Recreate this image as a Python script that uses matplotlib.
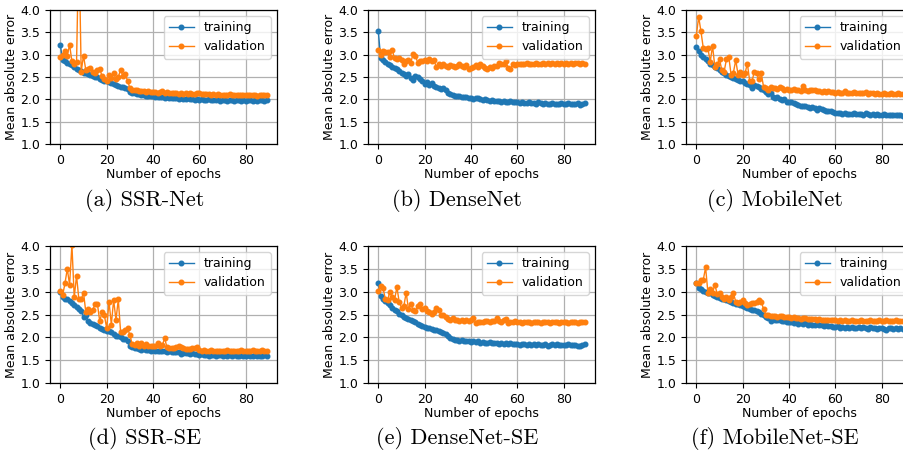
import matplotlib
matplotlib.use("Agg")
import matplotlib.pyplot as plt
import numpy as np

epochs = list(range(90))

a_train = [3.22, 2.88, 2.85, 2.82, 2.80, 2.76, 2.72, 2.68, 2.65, 2.63,
           2.60, 2.58, 2.57, 2.55, 2.53, 2.51, 2.49, 2.46, 2.44, 2.42,
           2.40, 2.38, 2.36, 2.34, 2.32, 2.30, 2.28, 2.27, 2.25, 2.24,
           2.17, 2.15, 2.14, 2.13, 2.12, 2.10, 2.09, 2.08, 2.08, 2.07,
           2.07, 2.06, 2.06, 2.05, 2.05, 2.04, 2.05, 2.03, 2.04, 2.02,
           2.03, 2.01, 2.02, 2.00, 2.01, 2.02, 2.00, 2.01, 1.99, 2.00,
           1.98, 2.00, 1.99, 1.98, 2.00, 1.98, 1.99, 1.98, 2.00, 1.97,
           1.98, 1.99, 1.97, 1.98, 1.99, 1.97, 1.98, 1.99, 1.97, 1.98,
           1.97, 1.98, 1.99, 1.97, 1.98, 1.97, 1.98, 1.99, 1.97, 1.98]
a_val = [2.95, 3.00, 3.08, 2.98, 3.22, 2.85, 2.80, 2.83, 5.60, 2.62,
         2.98, 2.65, 2.67, 2.70, 2.62, 2.60, 2.65, 2.68, 2.52, 2.45,
         2.42, 2.55, 2.48, 2.58, 2.45, 2.50, 2.66, 2.52, 2.56, 2.42,
         2.25, 2.22, 2.20, 2.20, 2.19, 2.18, 2.18, 2.17, 2.18, 2.16,
         2.16, 2.17, 2.15, 2.16, 2.18, 2.15, 2.17, 2.15, 2.14, 2.15,
         2.14, 2.13, 2.15, 2.13, 2.14, 2.12, 2.15, 2.13, 2.12, 2.14,
         2.14, 2.12, 2.11, 2.12, 2.11, 2.10, 2.11, 2.10, 2.11, 2.10,
         2.10, 2.09, 2.10, 2.11, 2.09, 2.10, 2.09, 2.10, 2.09, 2.10,
         2.09, 2.10, 2.09, 2.10, 2.09, 2.08, 2.09, 2.10, 2.09, 2.09]

b_train = [3.52, 2.93, 2.88, 2.84, 2.80, 2.76, 2.73, 2.70, 2.67, 2.63,
           2.60, 2.57, 2.52, 2.57, 2.47, 2.44, 2.53, 2.50, 2.45, 2.42,
           2.35, 2.38, 2.33, 2.37, 2.30, 2.28, 2.25, 2.24, 2.25, 2.22,
           2.15, 2.12, 2.10, 2.08, 2.07, 2.07, 2.06, 2.06, 2.05, 2.04,
           2.03, 2.01, 2.02, 2.02, 2.00, 1.99, 2.00, 1.98, 1.97, 1.98,
           1.97, 1.96, 1.97, 1.95, 1.96, 1.95, 1.94, 1.96, 1.93, 1.95,
           1.94, 1.92, 1.93, 1.92, 1.91, 1.93, 1.91, 1.92, 1.90, 1.93,
           1.91, 1.90, 1.91, 1.90, 1.89, 1.91, 1.90, 1.89, 1.90, 1.91,
           1.89, 1.90, 1.91, 1.89, 1.90, 1.89, 1.91, 1.88, 1.90, 1.91]
b_val = [3.10, 3.00, 3.08, 3.05, 3.05, 2.95, 3.10, 2.92, 2.90, 2.92,
         2.88, 2.80, 2.85, 2.88, 2.82, 3.02, 2.98, 2.82, 2.86, 2.85,
         2.88, 2.85, 2.90, 2.85, 2.88, 2.72, 2.78, 2.75, 2.78, 2.75,
         2.73, 2.76, 2.74, 2.72, 2.75, 2.78, 2.74, 2.72, 2.76, 2.67,
         2.70, 2.72, 2.76, 2.73, 2.78, 2.75, 2.70, 2.68, 2.72, 2.70,
         2.75, 2.74, 2.82, 2.78, 2.80, 2.85, 2.70, 2.68, 2.78, 2.76,
         2.80, 2.78, 2.80, 2.79, 2.81, 2.78, 2.80, 2.79, 2.81, 2.80,
         2.79, 2.81, 2.80, 2.82, 2.79, 2.81, 2.80, 2.82, 2.80, 2.81,
         2.80, 2.82, 2.79, 2.81, 2.80, 2.82, 2.81, 2.80, 2.81, 2.80]

c_train = [3.18, 3.08, 3.00, 2.95, 2.90, 2.85, 2.80, 2.76, 2.72, 2.70,
           2.66, 2.62, 2.58, 2.55, 2.53, 2.50, 2.48, 2.46, 2.44, 2.42,
           2.40, 2.36, 2.34, 2.32, 2.26, 2.33, 2.30, 2.28, 2.24, 2.22,
           2.17, 2.12, 2.15, 2.05, 2.02, 2.05, 2.00, 1.98, 2.00, 1.95,
           1.93, 1.95, 1.92, 1.90, 1.88, 1.86, 1.84, 1.85, 1.82, 1.80,
           1.83, 1.80, 1.76, 1.80, 1.78, 1.76, 1.74, 1.75, 1.73, 1.72,
           1.70, 1.69, 1.70, 1.68, 1.69, 1.67, 1.68, 1.67, 1.69, 1.67,
           1.68, 1.67, 1.66, 1.70, 1.67, 1.66, 1.68, 1.65, 1.67, 1.66,
           1.65, 1.67, 1.66, 1.64, 1.66, 1.65, 1.66, 1.64, 1.65, 1.63]
c_val = [3.42, 3.85, 3.52, 3.15, 3.12, 3.14, 2.84, 3.20, 2.72, 2.78,
         2.90, 2.65, 2.62, 2.90, 2.95, 2.55, 2.60, 2.88, 2.55, 2.62,
         2.55, 2.58, 2.80, 2.42, 2.40, 2.62, 2.58, 2.45, 2.58, 2.28,
         2.25, 2.22, 2.28, 2.25, 2.26, 2.24, 2.27, 2.25, 2.22, 2.24,
         2.22, 2.20, 2.23, 2.21, 2.20, 2.19, 2.30, 2.20, 2.19, 2.21,
         2.22, 2.20, 2.18, 2.19, 2.17, 2.18, 2.16, 2.18, 2.17, 2.16,
         2.15, 2.16, 2.14, 2.15, 2.18, 2.14, 2.15, 2.14, 2.16, 2.15,
         2.14, 2.15, 2.14, 2.16, 2.13, 2.14, 2.15, 2.13, 2.14, 2.12,
         2.13, 2.14, 2.12, 2.13, 2.14, 2.12, 2.13, 2.14, 2.12, 2.13]

d_train = [3.00, 2.88, 2.85, 2.83, 2.80, 2.75, 2.70, 2.66, 2.62, 2.58,
           2.45, 2.50, 2.35, 2.32, 2.30, 2.28, 2.25, 2.20, 2.18, 2.15,
           2.14, 2.14, 2.12, 2.08, 2.04, 2.02, 2.00, 1.97, 1.96, 1.92,
           1.80, 1.78, 1.77, 1.76, 1.75, 1.72, 1.74, 1.73, 1.72, 1.71,
           1.72, 1.70, 1.71, 1.69, 1.70, 1.70, 1.68, 1.69, 1.67, 1.68,
           1.68, 1.67, 1.63, 1.66, 1.65, 1.66, 1.64, 1.65, 1.63, 1.64,
           1.62, 1.63, 1.61, 1.62, 1.60, 1.62, 1.61, 1.60, 1.62, 1.61,
           1.60, 1.61, 1.60, 1.62, 1.60, 1.61, 1.59, 1.60, 1.61, 1.59,
           1.60, 1.61, 1.59, 1.60, 1.61, 1.59, 1.60, 1.59, 1.61, 1.59]
d_val = [3.02, 2.92, 3.18, 3.50, 3.15, 4.02, 2.88, 3.35, 2.83, 2.83,
         2.98, 2.55, 2.62, 2.55, 2.60, 2.73, 2.73, 2.35, 2.55, 2.48,
         2.20, 2.78, 2.28, 2.82, 2.38, 2.83, 2.12, 2.12, 2.15, 2.20,
         2.05, 1.85, 1.83, 1.88, 1.82, 1.88, 1.80, 1.85, 1.80, 1.82,
         1.80, 1.80, 1.88, 1.80, 1.83, 1.98, 1.78, 1.76, 1.77, 1.76,
         1.78, 1.81, 1.78, 1.76, 1.74, 1.75, 1.74, 1.76, 1.77, 1.79,
         1.72, 1.71, 1.72, 1.70, 1.71, 1.72, 1.70, 1.71, 1.70, 1.71,
         1.70, 1.71, 1.73, 1.70, 1.71, 1.70, 1.71, 1.70, 1.72, 1.70,
         1.71, 1.70, 1.71, 1.73, 1.70, 1.71, 1.70, 1.72, 1.71, 1.70]

e_train = [3.18, 2.90, 2.85, 2.80, 2.75, 2.70, 2.65, 2.60, 2.57, 2.52,
           2.48, 2.45, 2.42, 2.40, 2.38, 2.35, 2.33, 2.30, 2.27, 2.25,
           2.23, 2.21, 2.20, 2.18, 2.16, 2.15, 2.13, 2.12, 2.10, 2.07,
           2.02, 1.98, 1.96, 1.95, 1.94, 1.93, 1.94, 1.92, 1.93, 1.91,
           1.90, 1.92, 1.89, 1.91, 1.88, 1.89, 1.87, 1.88, 1.89, 1.87,
           1.87, 1.88, 1.86, 1.88, 1.86, 1.87, 1.85, 1.88, 1.86, 1.85,
           1.86, 1.84, 1.85, 1.86, 1.84, 1.85, 1.83, 1.85, 1.84, 1.86,
           1.84, 1.83, 1.85, 1.82, 1.84, 1.85, 1.83, 1.86, 1.84, 1.83,
           1.84, 1.83, 1.85, 1.83, 1.84, 1.83, 1.82, 1.80, 1.84, 1.85]
e_val = [3.02, 3.12, 3.08, 2.85, 2.82, 3.00, 2.88, 2.82, 3.10, 2.78,
         2.65, 2.68, 2.98, 2.62, 2.72, 2.60, 2.57, 2.68, 2.72, 2.62,
         2.65, 2.58, 2.55, 2.52, 2.55, 2.65, 2.60, 2.50, 2.48, 2.45,
         2.40, 2.38, 2.42, 2.37, 2.38, 2.36, 2.37, 2.35, 2.38, 2.36,
         2.38, 2.42, 2.32, 2.33, 2.34, 2.33, 2.35, 2.36, 2.34, 2.35,
         2.35, 2.42, 2.36, 2.34, 2.37, 2.40, 2.32, 2.34, 2.33, 2.35,
         2.33, 2.34, 2.32, 2.34, 2.33, 2.34, 2.32, 2.33, 2.34, 2.33,
         2.32, 2.34, 2.33, 2.34, 2.32, 2.33, 2.34, 2.33, 2.32, 2.34,
         2.33, 2.34, 2.32, 2.33, 2.34, 2.33, 2.32, 2.34, 2.33, 2.33]

f_train = [3.20, 3.08, 3.05, 3.02, 3.00, 2.98, 2.96, 2.93, 2.91, 2.89,
           2.87, 2.85, 2.83, 2.81, 2.79, 2.77, 2.76, 2.74, 2.72, 2.70,
           2.68, 2.66, 2.64, 2.62, 2.60, 2.59, 2.57, 2.55, 2.52, 2.50,
           2.45, 2.42, 2.35, 2.40, 2.38, 2.37, 2.38, 2.35, 2.36, 2.34,
           2.33, 2.34, 2.31, 2.33, 2.30, 2.31, 2.29, 2.32, 2.28, 2.30,
           2.28, 2.27, 2.29, 2.26, 2.27, 2.25, 2.27, 2.24, 2.25, 2.23,
           2.22, 2.24, 2.21, 2.23, 2.20, 2.22, 2.21, 2.23, 2.20, 2.21,
           2.22, 2.20, 2.23, 2.21, 2.19, 2.22, 2.20, 2.21, 2.19, 2.21,
           2.20, 2.18, 2.16, 2.20, 2.21, 2.19, 2.20, 2.19, 2.21, 2.19]
f_val = [3.20, 3.18, 3.25, 3.26, 3.53, 2.98, 3.05, 2.98, 3.15, 2.95,
         2.97, 2.88, 2.85, 2.88, 2.82, 2.88, 2.97, 2.78, 2.75, 2.78,
         2.82, 2.75, 2.70, 2.72, 2.75, 2.75, 2.78, 2.82, 2.78, 2.62,
         2.50, 2.48, 2.47, 2.46, 2.47, 2.45, 2.46, 2.47, 2.45, 2.44,
         2.45, 2.43, 2.44, 2.42, 2.43, 2.41, 2.42, 2.43, 2.41, 2.40,
         2.41, 2.40, 2.39, 2.40, 2.38, 2.39, 2.38, 2.37, 2.38, 2.37,
         2.37, 2.36, 2.37, 2.36, 2.37, 2.35, 2.36, 2.37, 2.36, 2.35,
         2.36, 2.37, 2.35, 2.36, 2.35, 2.37, 2.36, 2.35, 2.36, 2.37,
         2.35, 2.36, 2.37, 2.35, 2.36, 2.35, 2.37, 2.36, 2.35, 2.36]

captions = ["(a) SSR-Net", "(b) DenseNet", "(c) MobileNet",
            "(d) SSR-SE", "(e) DenseNet-SE", "(f) MobileNet-SE"]
series = [(a_train, a_val), (b_train, b_val), (c_train, c_val),
          (d_train, d_val), (e_train, e_val), (f_train, f_val)]
yticks = [1.0, 1.5, 2.0, 2.5, 3.0, 3.5, 4.0]
xticks = [0, 20, 40, 60, 80]

W, H = 904, 454
fig = plt.figure(figsize=(W / 100, H / 100), dpi=100)

lefts = [50, 368, 686]
tops = [10, 246]
bottoms = [144, 383]
axw = 227
cap_x = [145, 457, 775]
cap_y = [201, 439]

fs = 9
for i, (tr, va) in enumerate(series):
    r, c = divmod(i, 3)
    l = lefts[c]
    ax = fig.add_axes([l / W, 1 - bottoms[r] / H, axw / W, (bottoms[r] - tops[r]) / H])
    ax.plot(epochs, tr, marker='o', markersize=3.3, linewidth=1.0, color='#1f77b4', label='training')
    ax.plot(epochs, va, marker='o', markersize=3.3, linewidth=1.0, color='#ff7f0e', label='validation')
    ax.set_ylim(1.0, 4.0)
    ax.set_yticks(yticks)
    ax.set_xticks(xticks)
    ax.grid(True, color='#b0b0b0', linewidth=0.9)
    ax.set_axisbelow(True)
    ax.tick_params(labelsize=fs, length=3.5)
    ax.set_xlabel('Number of epochs', fontsize=fs, labelpad=1)
    ax.set_ylabel('Mean absolute error', fontsize=fs, labelpad=2)
    ax.legend(loc='upper right', fontsize=fs)
    for s in ax.spines.values():
        s.set_color('black')
        s.set_linewidth(0.9)
    fig.text(cap_x[c] / W, 1 - cap_y[r] / H, captions[i], ha='center', va='center',
             fontsize=16, family='cmr10')

fig.savefig('out.png', dpi=100)
